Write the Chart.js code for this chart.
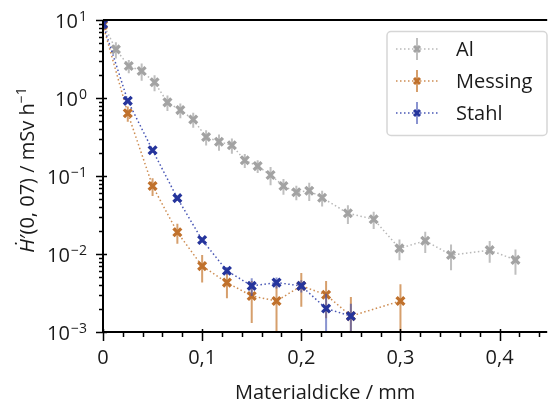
<!DOCTYPE html>
<html>
<head>
<meta charset="utf-8">
<script src="https://cdn.jsdelivr.net/npm/chart.js@4/dist/chart.umd.min.js"></script>
<style>
  html, body { margin: 0; padding: 0; background: #fff; overflow: hidden; }
  canvas { display: block; }
</style>
</head>
<body>
<canvas id="doseChart" width="556" height="401"></canvas>
<script>
// Dose rate H'(0.07) behind absorber plates of increasing thickness
const alDicke = [0, 0.013, 0.026, 0.039, 0.052, 0.065, 0.078, 0.091, 0.104, 0.117, 0.13, 0.143,
  0.156, 0.169, 0.182, 0.195, 0.208, 0.221, 0.247, 0.273, 0.299, 0.325, 0.351, 0.39, 0.416];
const alRate = [9.0, 4.2, 2.57, 2.22, 1.59, 0.88, 0.70, 0.53, 0.316, 0.275, 0.248, 0.159,
  0.134, 0.103, 0.0745, 0.0618, 0.0648, 0.0527, 0.0333, 0.0279, 0.0118, 0.0148, 0.0097, 0.0112, 0.0084];
const alErr = [1.0, 1.0, 0.5, 0.55, 0.37, 0.2, 0.15, 0.115, 0.07, 0.065, 0.055, 0.032,
  0.025, 0.027, 0.017, 0.013, 0.017, 0.012, 0.009, 0.007, 0.0035, 0.0045, 0.0035, 0.0035, 0.003];

const messingDicke = [0, 0.025, 0.05, 0.075, 0.1, 0.125, 0.15, 0.175, 0.2, 0.225, 0.25, 0.3];
const messingRate = [8.6, 0.637, 0.0745, 0.019, 0.0070, 0.0043, 0.0029, 0.0025, 0.0039, 0.0030, 0.0016, 0.0025];
const messingErr = [0.8, 0.14, 0.019, 0.0055, 0.0027, 0.0016, 0.0016, 0.0017, 0.0018, 0.0015, 0.0012, 0.0016];

const stahlDicke = [0, 0.025, 0.05, 0.075, 0.1, 0.125, 0.15, 0.175, 0.2, 0.225, 0.25];
const stahlRate = [8.9, 0.92, 0.214, 0.052, 0.0151, 0.0061, 0.0039, 0.0043, 0.0039, 0.0020, 0.0016];
const stahlErr = [0.8, 0.07, 0.015, 0.003, 0.001, 0.0007, 0.001, 0.0007, 0.0007, 0.0011, 0.0007];

const xTicks = [0, 0.1, 0.2, 0.3, 0.4];
const xTickLabels = ['0', '0,1', '0,2', '0,3', '0,4'];
const yDecades = [-3, -2, -1, 0, 1];
const xTitle = 'Materialdicke / mm';
const yTitle = [['Ḣ', 'italic'], ['′(0, 07) / mSv h', ''], ['−1', 'sup']];

const FONT = "'Open Sans', 'Noto Sans', sans-serif";
const INK = '#1a1a1a';

function toPoints(xs, ys) {
  return xs.map((x, i) => ({ x: x, y: ys[i] }));
}

// higher order is painted first, so Stahl ends up on top
function series(label, order, xs, ys, errs, color, lineColor, errColor) {
  return {
    label: label,
    order: order,
    data: toPoints(xs, ys),
    errors: errs,
    errorColor: errColor,
    borderColor: lineColor,
    borderWidth: 1.5,
    borderDash: [1.5, 2.5],
    pointStyle: 'crossRot',
    pointRadius: 5.5,
    pointBorderWidth: 3.3,
    pointBorderColor: color,
    pointBackgroundColor: color,
    tension: 0,
    fill: false
  };
}

// vertical error bars, drawn just under each series' own line and markers
const errorBars = {
  id: 'errorBars',
  beforeDatasetDraw(chart, args) {
    const ds = chart.data.datasets[args.index];
    const xs = chart.scales.x, ys = chart.scales.y;
    const area = chart.chartArea;
    const ctx = chart.ctx;
    ctx.save();
    ctx.beginPath();
    ctx.rect(area.left, area.top, area.right - area.left, area.bottom - area.top);
    ctx.clip();
    ctx.strokeStyle = ds.errorColor;
    ctx.lineWidth = 2;
    ds.data.forEach((p, i) => {
      const px = xs.getPixelForValue(p.x);
      const top = ys.getPixelForValue(p.y + ds.errors[i]);
      const low = p.y - ds.errors[i];
      const bottom = low > 0 ? ys.getPixelForValue(low) : area.bottom + 5;
      ctx.beginPath();
      ctx.moveTo(px, top);
      ctx.lineTo(px, bottom);
      ctx.stroke();
    });
    ctx.restore();
  }
};

// spines, tick marks, power-of-ten labels, y title and legend box
const frame = {
  id: 'frame',
  afterDraw(chart) {
    const ctx = chart.ctx;
    const area = chart.chartArea;
    const xs = chart.scales.x, ys = chart.scales.y;
    ctx.save();
    ctx.strokeStyle = '#000';
    ctx.lineWidth = 2;
    ctx.beginPath();
    ctx.moveTo(area.left, area.top);
    ctx.lineTo(area.right, area.top);
    ctx.moveTo(area.left, area.top);
    ctx.lineTo(area.left, area.bottom);
    ctx.lineTo(area.right, area.bottom);
    ctx.stroke();

    // x ticks: majors cross the axis, minors point outwards
    ctx.lineWidth = 1.5;
    ctx.beginPath();
    for (let k = 0; k * 0.02 <= xs.max + 1e-9; k++) {
      const px = Math.round(xs.getPixelForValue(k * 0.02)) + 0.5;
      const major = k % 5 === 0;
      ctx.moveTo(px, area.bottom - (major ? 3 : 0));
      ctx.lineTo(px, area.bottom + (major ? 9 : 5));
    }
    // y ticks on the log axis
    yDecades.forEach(e => {
      const base = Math.pow(10, e);
      const py = Math.round(ys.getPixelForValue(base)) + 0.5;
      ctx.moveTo(area.left - 7, py);
      ctx.lineTo(area.left + 4, py);
      if (e === yDecades[yDecades.length - 1]) return;
      for (let m = 2; m <= 9; m++) {
        const my = Math.round(ys.getPixelForValue(m * base)) + 0.5;
        ctx.moveTo(area.left - 4, my);
        ctx.lineTo(area.left, my);
      }
    });
    ctx.stroke();

    // decade labels 10^n
    ctx.fillStyle = INK;
    ctx.textBaseline = 'alphabetic';
    yDecades.forEach(e => {
      const py = ys.getPixelForValue(Math.pow(10, e));
      const exp = e < 0 ? '−' + Math.abs(e) : String(e);
      ctx.font = '14px ' + FONT;
      const ew = ctx.measureText(exp).width;
      const right = 87;
      ctx.textAlign = 'left';
      ctx.fillText(exp, right - ew, py + 1);
      ctx.font = '20px ' + FONT;
      ctx.textAlign = 'right';
      ctx.fillText('10', right - ew - 1, py + 8);
    });

    // rotated y title with italic symbol and superscript
    ctx.translate(34, 170);
    ctx.rotate(-Math.PI / 2);
    const fontFor = kind => kind === 'italic' ? 'italic 20px ' + FONT
      : kind === 'sup' ? '14px ' + FONT : '20px ' + FONT;
    let total = 0;
    yTitle.forEach(([txt, kind]) => { ctx.font = fontFor(kind); total += ctx.measureText(txt).width; });
    let cx = -total / 2;
    ctx.textAlign = 'left';
    yTitle.forEach(([txt, kind]) => {
      ctx.font = fontFor(kind);
      ctx.fillText(txt, cx, kind === 'sup' ? -8 : 0);
      cx += ctx.measureText(txt).width;
    });
    ctx.restore();

    // legend
    ctx.save();
    ctx.fillStyle = 'rgba(255,255,255,0.85)';
    ctx.strokeStyle = '#d6d6d6';
    ctx.lineWidth = 1.5;
    ctx.beginPath();
    ctx.roundRect(387, 31.5, 160, 104, 4);
    ctx.fill();
    ctx.stroke();
    chart.data.datasets.forEach((ds, i) => {
      const y = 49 + i * 32;
      const mx = 417;
      ctx.setLineDash(ds.borderDash);
      ctx.strokeStyle = ds.borderColor;
      ctx.lineWidth = 1.5;
      ctx.beginPath();
      ctx.moveTo(396, y);
      ctx.lineTo(439, y);
      ctx.stroke();
      ctx.setLineDash([]);
      ctx.strokeStyle = ds.errorColor;
      ctx.lineWidth = 2;
      ctx.beginPath();
      ctx.moveTo(mx, y - 11);
      ctx.lineTo(mx, y + 11);
      ctx.stroke();
      ctx.strokeStyle = ds.pointBorderColor;
      ctx.lineWidth = 3;
      ctx.beginPath();
      ctx.moveTo(mx - 3, y - 3);
      ctx.lineTo(mx + 3, y + 3);
      ctx.moveTo(mx - 3, y + 3);
      ctx.lineTo(mx + 3, y - 3);
      ctx.stroke();
      ctx.fillStyle = INK;
      ctx.font = '20px ' + FONT;
      ctx.textAlign = 'left';
      ctx.textBaseline = 'middle';
      ctx.fillText(ds.label, 456, y + 1);
    });
    ctx.restore();
  }
};

Chart.defaults.font.family = FONT;
Chart.defaults.color = INK;

const ctx = document.getElementById('doseChart').getContext('2d');
new Chart(ctx, {
  type: 'line',
  data: {
    datasets: [
      series('Al', 2, alDicke, alRate, alErr, '#a3a3a3', 'rgba(160,160,160,0.75)', 'rgba(170,170,170,0.75)'),
      series('Messing', 1, messingDicke, messingRate, messingErr, '#c0712c', 'rgba(196,120,50,0.85)', 'rgba(196,118,46,0.7)'),
      series('Stahl', 0, stahlDicke, stahlRate, stahlErr, '#26359c', 'rgba(40,56,168,0.85)', 'rgba(60,76,176,0.6)')
    ]
  },
  options: {
    responsive: false,
    animation: false,
    layout: { padding: { top: 20, right: 0, left: 0, bottom: 0 } },
    plugins: {
      legend: { display: false },
      tooltip: { enabled: false }
    },
    scales: {
      x: {
        type: 'linear',
        min: 0,
        max: 0.448,
        afterBuildTicks: s => { s.ticks = xTicks.map(v => ({ value: v })); },
        afterFit: s => { s.height = 69; },
        ticks: {
          callback: (v, i) => xTickLabels[i],
          font: { size: 20 },
          color: INK,
          padding: 14,
          maxRotation: 0
        },
        grid: { display: false, drawTicks: false },
        border: { display: false },
        title: {
          display: true,
          text: xTitle,
          font: { size: 20 },
          color: INK,
          padding: { top: 0, bottom: -4 }
        }
      },
      y: {
        type: 'logarithmic',
        min: 0.001,
        max: 10,
        afterFit: s => { s.width = 103; },
        ticks: { display: false },
        grid: { display: false, drawTicks: false },
        border: { display: false }
      }
    }
  },
  plugins: [errorBars, frame]
});
</script>
</body>
</html>
